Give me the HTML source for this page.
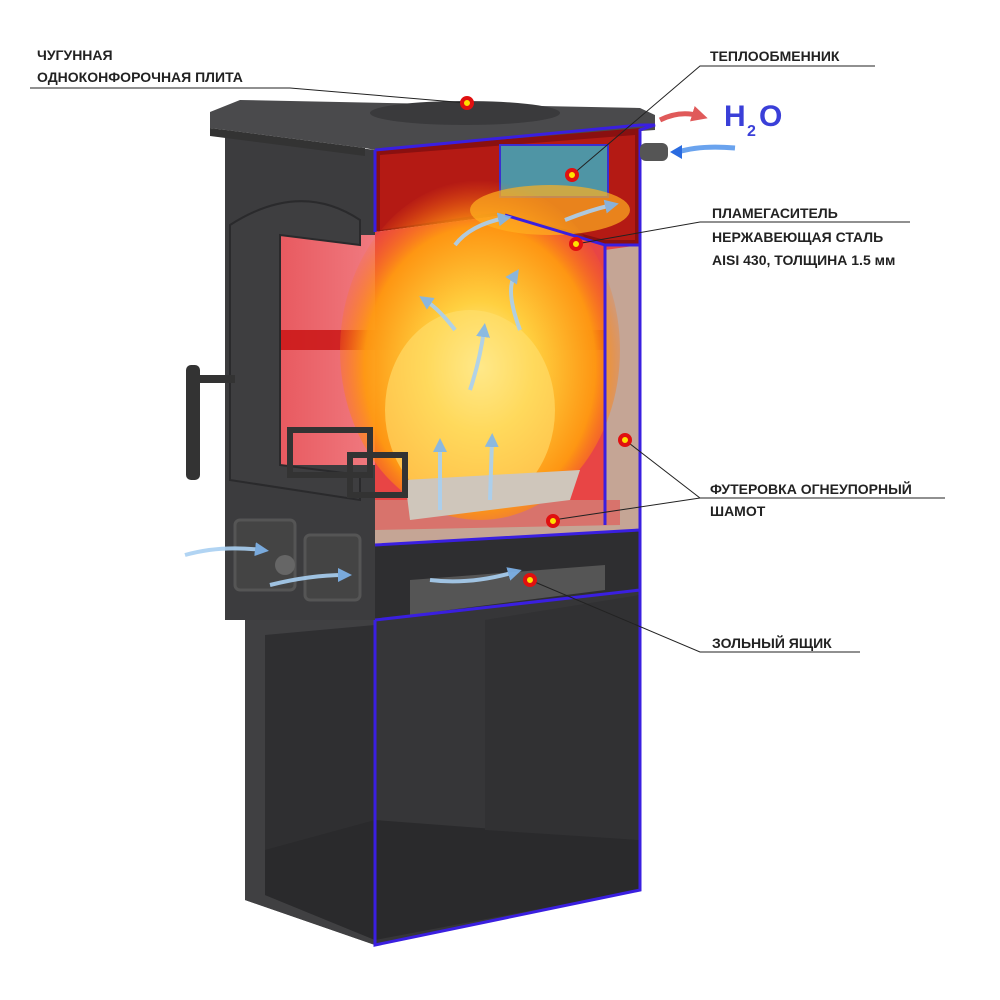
<!DOCTYPE html>
<html><head><meta charset="utf-8"><style>
html,body{margin:0;padding:0;background:#fff;width:1000px;height:1000px;overflow:hidden}
svg{display:block}
text{font-family:"Liberation Sans","DejaVu Sans",sans-serif;font-weight:bold;font-size:14px;fill:#222}
</style></head><body>
<svg width="1000" height="1000" viewBox="0 0 1000 1000" xmlns="http://www.w3.org/2000/svg">
<defs>
<radialGradient id="fire" cx="50%" cy="55%" r="55%">
<stop offset="0" stop-color="#fff6b0"/><stop offset="0.35" stop-color="#ffd040"/><stop offset="0.75" stop-color="#ff9a10" stop-opacity="0.95"/><stop offset="1" stop-color="#ff6a10" stop-opacity="0"/>
</radialGradient>
<linearGradient id="glass" x1="0" x2="1"><stop offset="0" stop-color="#e85a60"/><stop offset="1" stop-color="#f07a80"/></linearGradient>
<marker id="ab" viewBox="0 0 10 10" refX="5" refY="5" markerWidth="14" markerHeight="14" markerUnits="userSpaceOnUse" orient="auto"><path d="M0,0L10,5L0,10z" fill="#7fb6ee"/></marker>
<marker id="ar" viewBox="0 0 10 10" refX="5" refY="5" markerWidth="16" markerHeight="16" markerUnits="userSpaceOnUse" orient="auto"><path d="M0,0L10,5L0,10z" fill="#e05a5a"/></marker>
</defs>
<!-- body left front -->
<path d="M225,130 L375,150 L375,945 L245,900 L245,620 L225,620 Z" fill="#3c3c3e"/>
<!-- top plate -->
<path d="M210,112 L240,100 L640,108 L655,115 L655,130 L375,150 L365,148 L210,128 Z" fill="#4a4a4c"/>
<path d="M210,128 L365,148 L365,156 L210,136 Z" fill="#333"/>
<ellipse cx="465" cy="113" rx="95" ry="12" fill="#3a3a3c"/>
<!-- upper chamber -->
<path d="M375,150 L640,128 L640,245 L605,245 L505,215 L375,232 Z" fill="#8a1010"/>
<path d="M380,155 L635,135 L635,240 L605,240 L500,212 L380,230 Z" fill="#b41a14"/>
<rect x="500" y="145" width="108" height="52" fill="#4f95a5" stroke="#3b2fd0" stroke-width="2"/>
<!-- firebox -->
<path d="M375,232 L505,215 L605,245 L640,245 L640,510 L375,510 Z" fill="#e84545"/>
<rect x="280" y="235" width="95" height="230" fill="url(#glass)"/>
<rect x="280" y="330" width="330" height="20" fill="#c81010" opacity="0.8"/>
<!-- chamotte -->
<path d="M605,250 L640,245 L640,525 L605,525 Z" fill="#c5a595"/>
<path d="M375,525 L640,510 L640,545 L375,545 Z" fill="#c5a595"/>
<path d="M375,500 L620,500 L620,525 L375,530Z" fill="#d8736c"/>
<!-- fire -->
<ellipse cx="480" cy="350" rx="140" ry="170" fill="url(#fire)"/>
<ellipse cx="470" cy="410" rx="85" ry="100" fill="#ffe070" opacity="0.6"/>
<ellipse cx="550" cy="210" rx="80" ry="25" fill="#ffb020" opacity="0.7"/>
<!-- logs -->
<path d="M405,480 L580,470 L570,500 L410,520 Z" fill="#cfc6bb"/>
<!-- door -->
<path d="M230,225 Q300,180 360,220 L360,245 L280,235 L280,465 L360,475 L360,500 L230,480 Z" fill="#3e3e40" stroke="#2a2a2c" stroke-width="2"/>
<rect x="290" y="430" width="80" height="45" fill="none" stroke="#333" stroke-width="6"/>
<rect x="350" y="455" width="55" height="40" fill="none" stroke="#333" stroke-width="6"/>
<!-- handle -->
<rect x="200" y="375" width="35" height="8" fill="#333"/>
<rect x="186" y="365" width="14" height="115" rx="5" fill="#333"/>
<!-- lower front vents -->
<rect x="235" y="520" width="60" height="70" rx="5" fill="#444" stroke="#555" stroke-width="3"/>
<rect x="305" y="535" width="55" height="65" rx="5" fill="#444" stroke="#555" stroke-width="3"/>
<circle cx="285" cy="565" r="10" fill="#666"/>
<!-- ash area -->
<path d="M375,545 L640,530 L640,590 L375,620 Z" fill="#2e2e30"/>
<path d="M410,580 L605,565 L605,590 L410,615 Z" fill="#555"/>
<!-- lower compartment -->
<path d="M375,620 L640,590 L640,890 L375,945 Z" fill="#363638"/>
<path d="M245,620 L375,620 L375,945 L245,900 Z" fill="#404042"/>
<path d="M265,635 L375,625 L375,940 L265,895 Z" fill="#2f2f31"/>
<path d="M265,850 L375,820 L640,840 L640,890 L375,940 L265,895 Z" fill="#2a2a2c"/>
<path d="M485,620 L640,595 L640,840 L485,830 Z" fill="#313133"/>
<!-- blue cut outline -->
<path d="M375,150 L640,125 L655,125 L640,130 L640,890 L375,945 L375,620 M375,150 L375,232 M640,245 L605,245 L605,525 M375,545 L640,530 M375,620 L640,590 M505,215 L605,245" fill="none" stroke="#3a1fe0" stroke-width="3"/>
<!-- pipes & arrows -->
<rect x="640" y="143" width="28" height="18" rx="6" fill="#555"/>
<path d="M660,120 Q680,110 700,116" stroke="#e05a5a" stroke-width="5" fill="none" marker-end="url(#ar)"/>
<path d="M735,148 Q700,145 678,152" stroke="#6aa3ee" stroke-width="5" fill="none"/>
<path d="M670,152 l12,-7 l0,14z" fill="#2a6be0"/>
<text x="724" y="126" style="font-size:30px;fill:#3a3fd8">H</text>
<text x="747" y="136" style="font-size:16px;fill:#3a3fd8">2</text>
<text x="759" y="126" style="font-size:30px;fill:#3a3fd8">O</text>
<!-- air arrows -->
<g stroke="#a9d0f2" stroke-width="4" fill="none" marker-end="url(#ab)" opacity="0.9">
<path d="M185,555 Q220,545 262,550"/><path d="M270,585 Q310,575 345,575"/>
<path d="M430,580 Q470,585 515,572"/>
<path d="M440,510 L440,445"/><path d="M490,500 L492,440"/>
<path d="M470,390 Q480,360 484,330"/><path d="M520,330 Q505,290 515,275"/><path d="M455,330 Q440,310 425,300"/>
<path d="M455,245 Q470,225 505,218"/><path d="M565,220 Q590,210 612,205"/>
</g>
<!-- leader lines -->
<g stroke="#222" stroke-width="1" fill="none">
<path d="M30,88 L290,88 L467,103"/>
<path d="M875,66 L700,66 L572,175"/>
<path d="M910,222 L700,222 L576,244"/>
<path d="M945,498 L700,498 L625,440 M700,498 L553,520"/>
<path d="M860,652 L700,652 L530,580"/>
</g>
<!-- dots -->
<g fill="#ffe000" stroke="#e01010" stroke-width="4">
<circle cx="467" cy="103" r="5"/><circle cx="572" cy="175" r="5"/><circle cx="576" cy="244" r="5"/>
<circle cx="625" cy="440" r="5"/><circle cx="553" cy="521" r="5"/><circle cx="530" cy="580" r="5"/>
</g>
<!-- labels -->
<text x="37" y="60">ЧУГУННАЯ</text>
<text x="37" y="82">ОДНОКОНФОРОЧНАЯ ПЛИТА</text>
<text x="710" y="61">ТЕПЛООБМЕННИК</text>
<text x="712" y="218">ПЛАМЕГАСИТЕЛЬ</text>
<text x="712" y="242">НЕРЖАВЕЮЩАЯ СТАЛЬ</text>
<text x="712" y="265">AISI 430, ТОЛЩИНА 1.5 мм</text>
<text x="710" y="494">ФУТЕРОВКА ОГНЕУПОРНЫЙ</text>
<text x="710" y="516">ШАМОТ</text>
<text x="712" y="648">ЗОЛЬНЫЙ ЯЩИК</text>
</svg>
</body></html>
